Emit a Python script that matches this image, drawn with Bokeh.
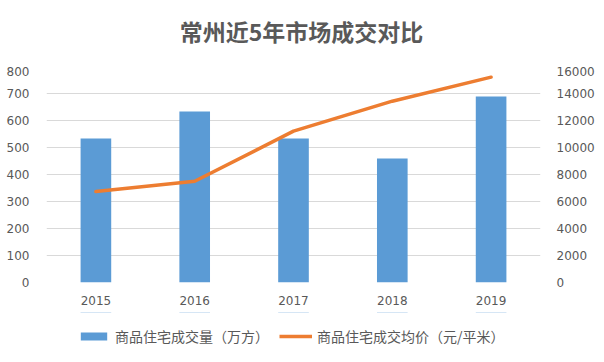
from bokeh.plotting import figure
from bokeh.models import Range1d, LinearAxis, Legend, LegendItem, FixedTicker, Label
from bokeh.layouts import column
from bokeh.embed import file_html
from bokeh.resources import INLINE

years = ["2015", "2016", "2017", "2018", "2019"]
volume = [533, 633, 533, 459, 689]          # 万方
price = [6740, 7500, 11210, 13430, 15210]   # 元/平米
title_text = "常州近5年市场成交对比"
label_volume = "商品住宅成交量（万方）"
label_price = "商品住宅成交均价（元/平米）"

CJK = "Noto Sans CJK SC"
NUM = "DejaVu Sans"
GRAY = "#595959"
BLUE = "#5b9bd5"
ORANGE = "#ed7d31"


def bare(fig):
    fig.axis.visible = False
    fig.grid.visible = False
    fig.outline_line_color = None


# title strip
p0 = figure(x_range=Range1d(0, 1), y_range=Range1d(0, 1), width=604, height=66,
            output_backend="svg", toolbar_location=None,
            min_border_left=0, min_border_right=0, min_border_top=0, min_border_bottom=0)
bare(p0)
p0.add_layout(Label(x=0.5, y=0.54, x_offset=8, text=title_text, text_align="center",
                    text_baseline="middle", text_font=CJK, text_font_size="23px",
                    text_font_style="bold", text_color=GRAY))

# main chart
p = figure(x_range=years, y_range=Range1d(0, 800), width=604, height=246,
           output_backend="svg", toolbar_location=None,
           min_border_left=46, min_border_right=64, min_border_top=0, min_border_bottom=30)
p.extra_y_ranges = {"price": Range1d(0, 16000)}

p.outline_line_color = None
p.xgrid.grid_line_color = None
p.ygrid.grid_line_color = "#d9d9d9"
p.ygrid.grid_line_width = 1

bars = p.vbar(x=years, top=volume, width=0.31, color=BLUE, line_color=None)
line = p.line(x=years, y=price, y_range_name="price", line_color=ORANGE,
              line_width=3.5, line_cap="round", line_join="round")

p.yaxis.ticker = FixedTicker(ticks=list(range(0, 801, 100)))
right = LinearAxis(y_range_name="price", ticker=FixedTicker(ticks=list(range(0, 16001, 2000))))
p.add_layout(right, "right")

for ax in [p.xaxis[0], p.yaxis[0], right]:
    ax.axis_line_color = None
    ax.major_tick_line_color = None
    ax.minor_tick_line_color = None
    ax.major_label_text_font = NUM
    ax.major_label_text_font_size = "12px"
    ax.major_label_text_color = GRAY
p.yaxis[0].major_label_standoff = 11
right.major_label_standoff = 10
p.xaxis[0].major_label_standoff = 7

# legend strip below the chart (series drawn out of view, only the legend shows)
p2 = figure(x_range=years, y_range=Range1d(-2, -1), width=604, height=50,
            output_backend="svg", toolbar_location=None,
            min_border_left=0, min_border_right=0, min_border_top=0, min_border_bottom=0)
bare(p2)
lb = p2.vbar(x=years, top=volume, width=0.31, color=BLUE, line_color=None)
ll = p2.line(x=years, y=price, line_color=ORANGE, line_width=3.5)

legend = Legend(items=[LegendItem(label=label_volume, renderers=[lb]),
                       LegendItem(label=label_price, renderers=[ll])],
                orientation="horizontal", location=(31, 16),
                label_text_font=CJK, label_text_font_size="14px", label_text_color=GRAY,
                glyph_width=33, glyph_height=10, spacing=10, label_standoff=5,
                border_line_color=None, background_fill_alpha=0, margin=0, padding=0)
p2.add_layout(legend, "center")

layout = column(p0, p, p2, spacing=0)
open("out.html", "w").write(file_html(layout, INLINE))
